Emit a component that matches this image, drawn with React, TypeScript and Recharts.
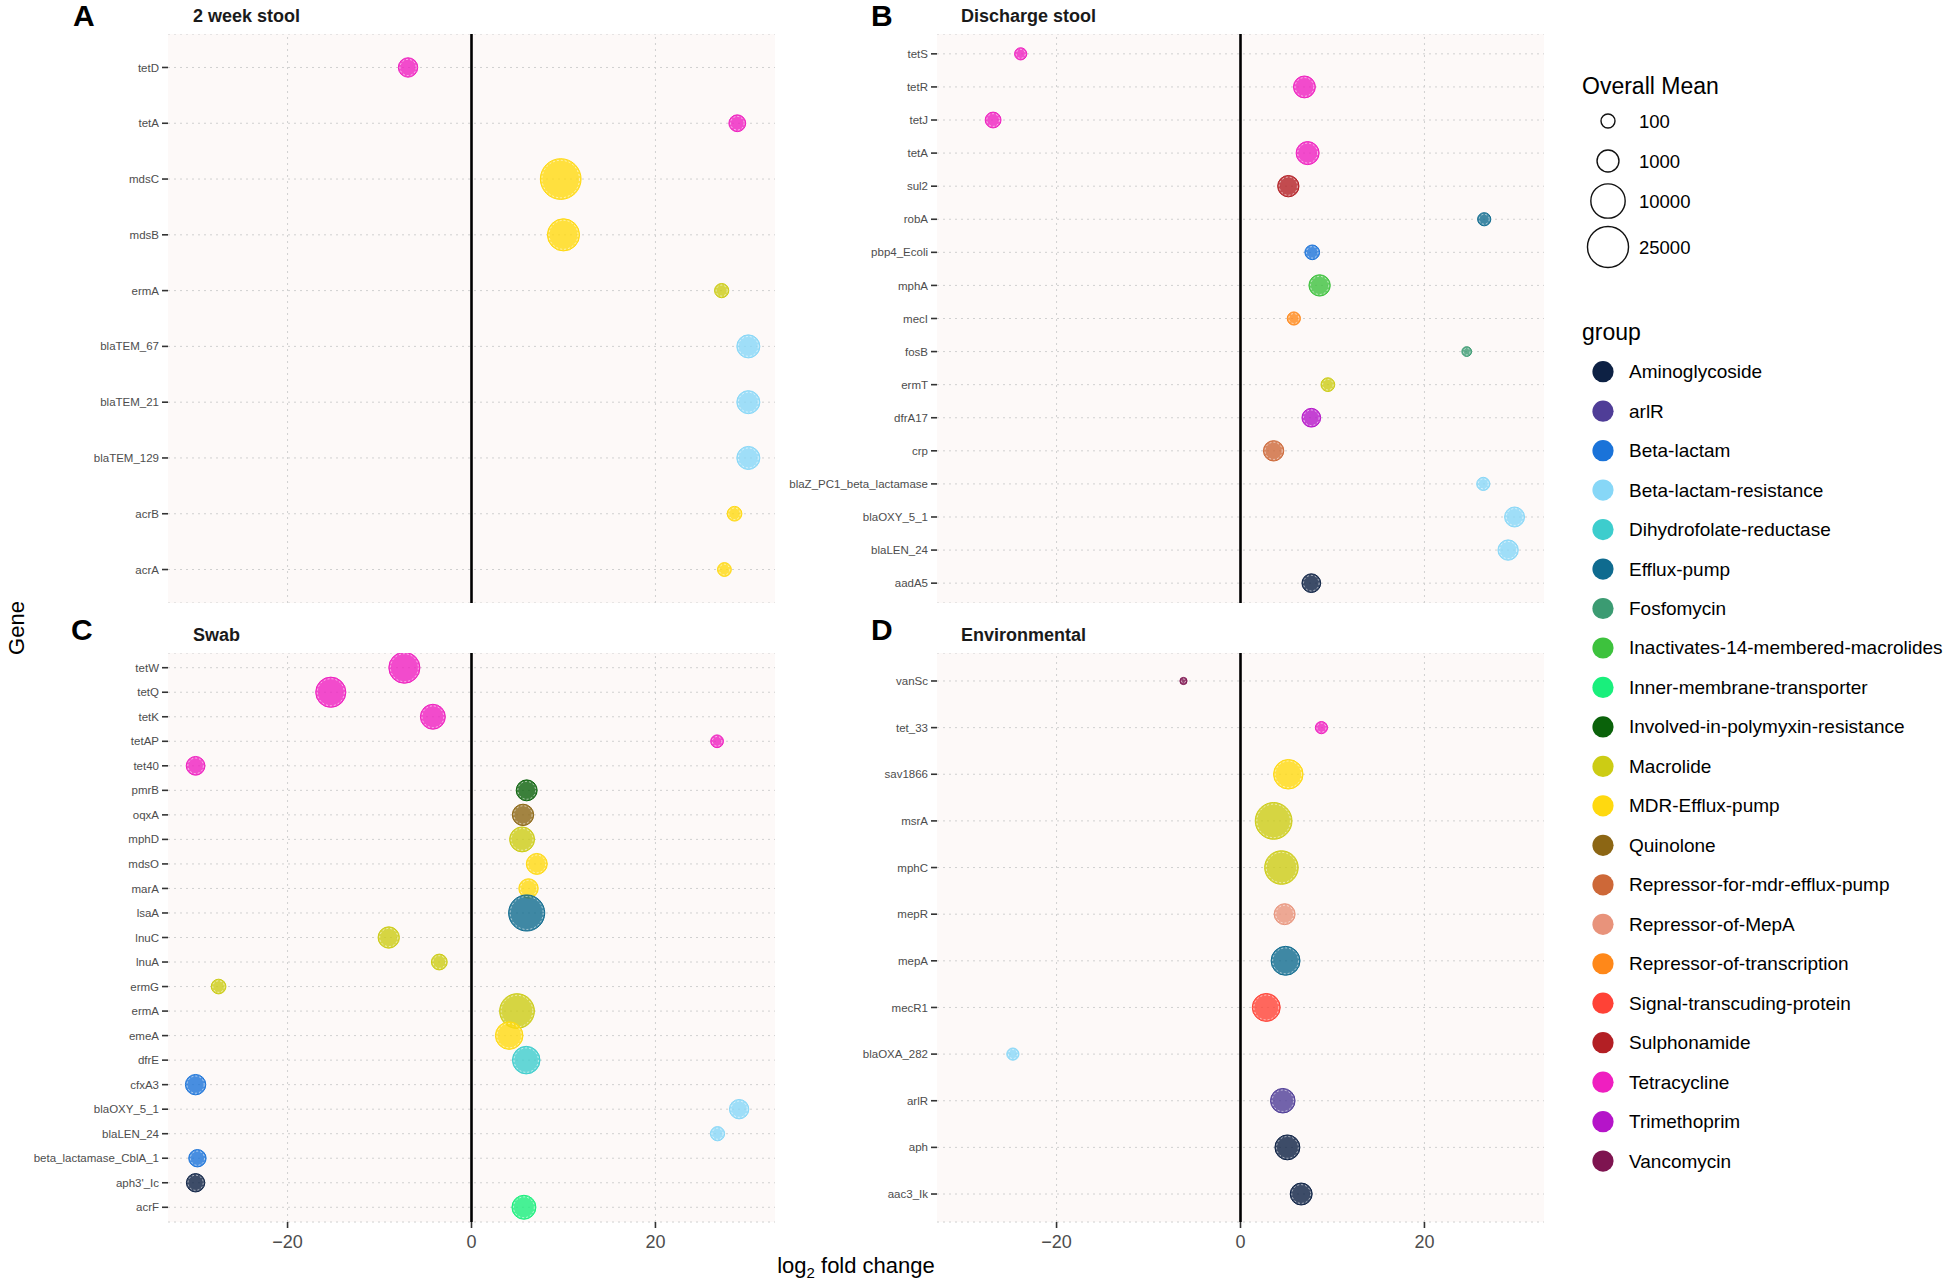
import React from "react";
import {
  CartesianGrid,
  ReferenceLine,
  Scatter,
  ScatterChart,
  XAxis,
  YAxis,
  ZAxis,
} from "recharts";

// groups + colours (legend order)
const GROUPS = [
  "Aminoglycoside",
  "arlR",
  "Beta-lactam",
  "Beta-lactam-resistance",
  "Dihydrofolate-reductase",
  "Efflux-pump",
  "Fosfomycin",
  "Inactivates-14-membered-macrolides",
  "Inner-membrane-transporter",
  "Involved-in-polymyxin-resistance",
  "Macrolide",
  "MDR-Efflux-pump",
  "Quinolone",
  "Repressor-for-mdr-efflux-pump",
  "Repressor-of-MepA",
  "Repressor-of-transcription",
  "Signal-transcuding-protein",
  "Sulphonamide",
  "Tetracycline",
  "Trimethoprim",
  "Vancomycin",
];
const GROUP_COLORS = [
  "#0d2144", "#4f3d97", "#1a73d9", "#87d7f7", "#3dcdcd", "#0f6b8f", "#3b9b72",
  "#3dc23d", "#19ef7c", "#0a620a", "#cccc14", "#ffd90f", "#8c6614", "#cd6838",
  "#e8937b", "#ff8819", "#ff4236", "#b31f24", "#ef1fc0", "#b514c9", "#7e1450",
];

const SIZE_BREAKS = [100, 1000, 10000, 25000];

// A – 2 week stool (top to bottom)
const A_GENES = ["tetD", "tetA", "mdsC", "mdsB", "ermA", "blaTEM_67", "blaTEM_21", "blaTEM_129", "acrB", "acrA"];
const A_LFC = [-6.9, 28.9, 9.7, 10.0, 27.2, 30.1, 30.1, 30.1, 28.6, 27.5];
const A_MEAN = [540, 260, 24000, 7200, 110, 1300, 1300, 1300, 130, 95];
const A_GROUP = [
  "Tetracycline", "Tetracycline", "MDR-Efflux-pump", "MDR-Efflux-pump", "Macrolide",
  "Beta-lactam-resistance", "Beta-lactam-resistance", "Beta-lactam-resistance",
  "MDR-Efflux-pump", "MDR-Efflux-pump",
];

// B – Discharge stool
const B_GENES = [
  "tetS", "tetR", "tetJ", "tetA", "sul2", "robA", "pbp4_Ecoli", "mphA", "mecI", "fosB",
  "ermT", "dfrA17", "crp", "blaZ_PC1_beta_lactamase", "blaOXY_5_1", "blaLEN_24", "aadA5",
];
const B_LFC = [-23.9, 6.95, -26.9, 7.3, 5.2, 26.5, 7.8, 8.6, 5.8, 24.6, 9.5, 7.7, 3.6, 26.4, 29.8, 29.1, 7.7];
const B_MEAN = [50, 1000, 190, 1300, 880, 74, 130, 880, 74, 16, 93, 450, 690, 74, 625, 690, 450];
const B_GROUP = [
  "Tetracycline", "Tetracycline", "Tetracycline", "Tetracycline", "Sulphonamide", "Efflux-pump",
  "Beta-lactam", "Inactivates-14-membered-macrolides", "Repressor-of-transcription", "Fosfomycin",
  "Macrolide", "Trimethoprim", "Repressor-for-mdr-efflux-pump", "Beta-lactam-resistance",
  "Beta-lactam-resistance", "Beta-lactam-resistance", "Aminoglycoside",
];

// C – Swab
const C_GENES = [
  "tetW", "tetQ", "tetK", "tetAP", "tet40", "pmrB", "oqxA", "mphD", "mdsO", "marA", "lsaA",
  "lnuC", "lnuA", "ermG", "ermA", "emeA", "dfrE", "cfxA3", "blaOXY_5_1", "blaLEN_24",
  "beta_lactamase_CblA_1", "aph3'_Ic", "acrF",
];
const C_LFC = [
  -7.3, -15.3, -4.2, 26.7, -30.0, 6.0, 5.6, 5.5, 7.1, 6.2, 6.0, -9.0, -3.5, -27.5, 4.95, 4.1,
  5.95, -30.0, 29.1, 26.75, -29.8, -30.0, 5.7,
];
const C_MEAN = [
  6100, 5200, 1960, 63, 450, 800, 880, 1960, 800, 540, 13000, 880, 190, 130, 10700, 3260,
  3260, 690, 540, 110, 306, 407, 1600,
];
const C_GROUP = [
  "Tetracycline", "Tetracycline", "Tetracycline", "Tetracycline", "Tetracycline",
  "Involved-in-polymyxin-resistance", "Quinolone", "Macrolide", "MDR-Efflux-pump", "MDR-Efflux-pump",
  "Efflux-pump", "Macrolide", "Macrolide", "Macrolide", "Macrolide", "MDR-Efflux-pump",
  "Dihydrofolate-reductase", "Beta-lactam", "Beta-lactam-resistance", "Beta-lactam-resistance",
  "Beta-lactam", "Aminoglycoside", "Inner-membrane-transporter",
];

// D – Environmental
const D_GENES = ["vanSc", "tet_33", "sav1866", "msrA", "mphC", "mepR", "mepA", "mecR1", "blaOXA_282", "arlR", "aph", "aac3_Ik"];
const D_LFC = [-6.2, 8.8, 5.2, 3.6, 4.45, 4.8, 4.9, 2.8, -24.75, 4.6, 5.1, 6.6];
const D_MEAN = [3.3, 50, 4660, 14200, 8900, 800, 4200, 3500, 50, 1800, 1960, 1020];
const D_GROUP = [
  "Vancomycin", "Tetracycline", "MDR-Efflux-pump", "Macrolide", "Macrolide", "Repressor-of-MepA",
  "Efflux-pump", "Signal-transcuding-protein", "Beta-lactam-resistance", "arlR",
  "Aminoglycoside", "Aminoglycoside",
];

// bubble radius ~ K * mean^P  ->  area linear in mean^(2P)
const SIZE_K = 2.85;
const SIZE_P = 0.195;
const Z_MAX = 100;
const Z_AREA = Z_MAX * Math.PI * SIZE_K * SIZE_K;

const FONT = "'Liberation Sans', Arial, Helvetica, sans-serif";
const PANEL_BG = "#fdf9f8";
const GRID = "#d0d0d0";

const colorOf = (g: string) => GROUP_COLORS[GROUPS.indexOf(g)] || "#999";
const fmtX = (v: number) => (v < 0 ? `\u2212${Math.abs(v)}` : `${v}`);

const Bubble = (props: any) => {
  const { cx, cy, payload } = props;
  if (cx == null || cy == null) return null;
  const r = props.width ? props.width / 2 : Math.sqrt((props.size || 64) / Math.PI);
  const c = colorOf(payload.group);
  return (
    <g>
      <circle cx={cx} cy={cy} r={r} fill={c} fillOpacity={0.8} stroke={c} strokeWidth={1} />
      {r > 3 && (
        <circle cx={cx} cy={cy} r={r - 1.6} fill="none" stroke="#fff" strokeOpacity={0.65} strokeWidth={0.9} strokeDasharray="2 2" />
      )}
    </g>
  );
};

interface PanelProps {
  genes: string[];
  lfc: number[];
  mean: number[];
  group: string[];
  showX: boolean;
  left: number;
  top: number;
  width: number;
  yWidth: number;
}

const Panel = ({ genes, lfc, mean, group, showX, left, top, width, yWidth }: PanelProps) => {
  const rows = genes.map((g, i) => ({
    gene: g,
    idx: i,
    lfc: lfc[i],
    z: Math.pow(mean[i], 2 * SIZE_P),
    group: group[i],
  }));
  const n = genes.length;
  const height = showX ? 569 + 32 : 569;
  return (
    <div style={{ position: "absolute", left, top, width, height }}>
      <ScatterChart width={width} height={height} margin={{ top: 0, right: 0, bottom: 0, left: 0 }}>
        <CartesianGrid vertical={false} fill={PANEL_BG} fillOpacity={1} stroke={GRID} strokeDasharray="2 4" />
        <XAxis
          type="number"
          dataKey="lfc"
          domain={[-33, 33]}
          ticks={[-20, 0, 20]}
          hide={!showX}
          height={32}
          tickSize={6}
          tickMargin={7}
          axisLine={false}
          tickLine={{ stroke: "#333", strokeWidth: 1.6 }}
          tick={{ fontSize: 18, fill: "#4d4d4d" }}
          tickFormatter={fmtX}
          allowDataOverflow
        />
        <YAxis
          type="number"
          dataKey="idx"
          domain={[-0.6, n - 0.4]}
          reversed
          ticks={genes.map((_, i) => i)}
          interval={0}
          tickFormatter={(i: number) => genes[i]}
          width={yWidth}
          tickSize={6}
          tickMargin={3}
          axisLine={false}
          tickLine={{ stroke: "#333", strokeWidth: 1.6 }}
          tick={{ fontSize: 11.5, fill: "#4d4d4d" }}
          allowDataOverflow
        />
        <ZAxis type="number" dataKey="z" domain={[0, Z_MAX]} range={[0, Z_AREA]} />
        <ReferenceLine x={-20} stroke={GRID} strokeDasharray="2 4" />
        <ReferenceLine x={20} stroke={GRID} strokeDasharray="2 4" />
        <ReferenceLine x={0} stroke="#000" strokeWidth={2.6} />
        <Scatter data={rows} shape={Bubble} isAnimationActive={false} />
      </ScatterChart>
    </div>
  );
};

const Overlay = () => (
  <svg width={1950} height={1282} style={{ position: "absolute", left: 0, top: 0, pointerEvents: "none" }} fontFamily={FONT}>
    <text x={73} y={26} fontSize={30} fontWeight="bold">A</text>
    <text x={871} y={26} fontSize={30} fontWeight="bold">B</text>
    <text x={71} y={640} fontSize={30} fontWeight="bold">C</text>
    <text x={871} y={640} fontSize={30} fontWeight="bold">D</text>

    <text x={193} y={21.5} fontSize={18} fontWeight="bold" fill="#1a1a1a">2 week stool</text>
    <text x={961} y={21.5} fontSize={18} fontWeight="bold" fill="#1a1a1a">Discharge stool</text>
    <text x={193} y={641} fontSize={18} fontWeight="bold" fill="#1a1a1a">Swab</text>
    <text x={961} y={641} fontSize={18} fontWeight="bold" fill="#1a1a1a">Environmental</text>

    <text x={856} y={1273} fontSize={22} textAnchor="middle">
      log<tspan fontSize={15} dy={5}>2</tspan>
      <tspan dy={-5}> fold change</tspan>
    </text>
    <text x={24} y={628} fontSize={22} textAnchor="middle" transform="rotate(-90 24 628)">Gene</text>

    <text x={1582} y={94} fontSize={23}>Overall Mean</text>
    {SIZE_BREAKS.map((v, i) => {
      const cy = [121, 161, 201, 247][i];
      const r = SIZE_K * Math.pow(v, SIZE_P);
      return (
        <g key={v}>
          <circle cx={1608} cy={cy} r={r} fill="none" stroke="#111" strokeWidth={1.4} />
          <text x={1639} y={cy} fontSize={18.5} dominantBaseline="central">{v}</text>
        </g>
      );
    })}

    <text x={1582} y={340} fontSize={23}>group</text>
    {GROUPS.map((g, i) => {
      const cy = 371.7 + i * 39.47;
      return (
        <g key={g}>
          <circle cx={1603} cy={cy} r={10.6} fill={GROUP_COLORS[i]} />
          <text x={1629} y={cy} fontSize={19} dominantBaseline="central">{g}</text>
        </g>
      );
    })}
  </svg>
);

export default function App() {
  return (
    <div style={{ position: "absolute", left: 0, top: 0, width: 1950, height: 1282, background: "#fff", fontFamily: FONT }}>
      <Panel genes={A_GENES} lfc={A_LFC} mean={A_MEAN} group={A_GROUP} showX={false} left={0} top={33.5} width={775} yWidth={168} />
      <Panel genes={B_GENES} lfc={B_LFC} mean={B_MEAN} group={B_GROUP} showX={false} left={780} top={33.5} width={764} yWidth={157} />
      <Panel genes={C_GENES} lfc={C_LFC} mean={C_MEAN} group={C_GROUP} showX={true} left={0} top={653} width={775} yWidth={168} />
      <Panel genes={D_GENES} lfc={D_LFC} mean={D_MEAN} group={D_GROUP} showX={true} left={780} top={653} width={764} yWidth={157} />
      <Overlay />
    </div>
  );
}
